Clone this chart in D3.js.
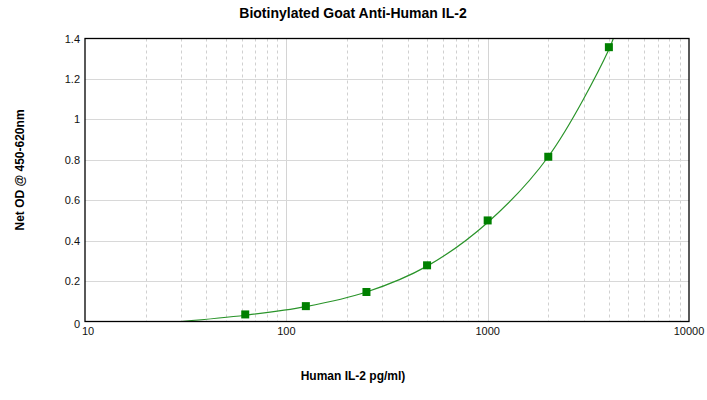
<!DOCTYPE html>
<html><head><meta charset="utf-8">
<script src="https://cdn.jsdelivr.net/npm/d3@7"></script>
<style>body{margin:0;background:#fff}svg{display:block}text{font-family:"Liberation Sans",Arial,sans-serif}</style>
</head><body><svg id="c" width="707" height="400"></svg>
<script>
const concentrations = [62.5, 125, 250, 500, 1000, 2000, 4000];
const odValues = [0.035, 0.076, 0.146, 0.278, 0.5, 0.815, 1.357];
const curveX = [30, 62.5, 125, 250, 500, 1000, 2000, 4000, 4300];
const curveY = [0, 0.031, 0.074, 0.146, 0.274, 0.49, 0.815, 1.345, 1.43];
const yTicks = [0, 0.2, 0.4, 0.6, 0.8, 1, 1.2, 1.4];
const xTicks = [10, 100, 1000, 10000];
const title = "Biotinylated Goat Anti-Human IL-2";
const xLabel = "Human IL-2 pg/ml)";
const yLabel = "Net OD @ 450-620nm";

const svg = d3.select("#c");
const L = 85, R = 689, T = 38.5, B = 321.5;
const x = d3.scaleLog().domain([10, 10000]).range([L, R]);
const y = d3.scaleLinear().domain([0, 1.4]).range([B, T]);

const minor = [];
for (let d = 10; d < 10000; d *= 10) for (let k = 2; k <= 9; k++) minor.push(d * k);
svg.append("g").selectAll("line").data(minor).join("line")
  .attr("x1", d => Math.round(x(d)) + 0.5).attr("x2", d => Math.round(x(d)) + 0.5)
  .attr("y1", T).attr("y2", B).attr("stroke", "#d0d0d0").attr("stroke-dasharray", "3,3");
svg.append("g").selectAll("line").data(xTicks.slice(1, -1)).join("line")
  .attr("x1", d => Math.round(x(d)) + 0.5).attr("x2", d => Math.round(x(d)) + 0.5)
  .attr("y1", T).attr("y2", B).attr("stroke", "#d4d4d4");
svg.append("g").selectAll("line").data(yTicks.slice(1, -1)).join("line")
  .attr("x1", L).attr("x2", R)
  .attr("y1", d => Math.round(y(d)) + 0.5).attr("y2", d => Math.round(y(d)) + 0.5)
  .attr("stroke", "#d8d8d8");

svg.append("clipPath").attr("id", "clip").append("rect").attr("x", L).attr("y", T).attr("width", R - L).attr("height", B - T);

const pts = curveX.map((d, i) => [d, curveY[i]]);
svg.append("path").datum(pts).attr("clip-path", "url(#clip)")
  .attr("d", d3.line().x(d => x(d[0])).y(d => y(d[1])).curve(d3.curveCatmullRom.alpha(0.5)))
  .attr("fill", "none").attr("stroke", "#2a942a").attr("stroke-width", 1.2);

svg.append("rect").attr("x", L).attr("y", T).attr("width", R - L).attr("height", B - T)
  .attr("fill", "none").attr("stroke", "#000").attr("stroke-width", 1.3);

svg.append("g").selectAll("rect").data(concentrations).join("rect")
  .attr("x", (d) => x(d) - 4).attr("y", (d, i) => y(odValues[i]) - 4)
  .attr("width", 8).attr("height", 8).attr("fill", "#008000");

svg.append("g").selectAll("text").data(yTicks).join("text")
  .attr("x", 80).attr("y", d => y(d) + (d === 0 ? 6 : 4))
  .attr("text-anchor", "end").attr("font-size", 11).attr("fill", "#111").text(d => d);
svg.append("g").selectAll("text").data(xTicks).join("text")
  .attr("x", d => x(d) + (d === 10 ? 3 : 0)).attr("y", 335)
  .attr("text-anchor", "middle").attr("font-size", 11).attr("fill", "#111").text(d => d);

svg.append("text").attr("x", 353).attr("y", 18).attr("text-anchor", "middle")
  .attr("font-size", 14).attr("font-weight", "bold").text(title);
svg.append("text").attr("x", 353).attr("y", 380).attr("text-anchor", "middle")
  .attr("font-size", 12).attr("font-weight", "bold").text(xLabel);
svg.append("text").attr("transform", "translate(24,170) rotate(-90)").attr("text-anchor", "middle")
  .attr("font-size", 12).attr("font-weight", "bold").text(yLabel);
</script></body></html>
